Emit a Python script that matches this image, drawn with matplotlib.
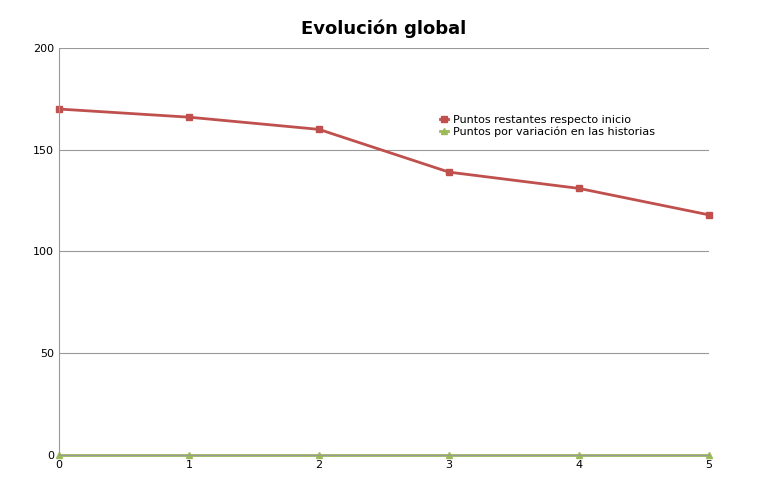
import matplotlib
matplotlib.use('Agg')
import matplotlib.pyplot as plt

x = [0, 1, 2, 3, 4, 5]
restantes = [170, 166, 160, 139, 131, 118]
variacion = [0, 0, 0, 0, 0, 0]

fig = plt.figure(figsize=(7.61, 5.04), dpi=100)
ax = fig.add_axes([0.0775, 0.0972, 0.8542, 0.8076])
ax.plot(x, restantes, color='#c0504d', linewidth=2, marker='s', markersize=5,
        label='Puntos restantes respecto inicio', clip_on=False)
ax.plot(x, variacion, color='#9bbb59', linewidth=2, marker='^', markersize=5,
        label='Puntos por variación en las historias', clip_on=False)
ax.set_xlim(0, 5)
ax.set_ylim(0, 200)
ax.set_xticks(x)
ax.set_yticks([0, 50, 100, 150, 200])
ax.tick_params(labelsize=8, length=0)
ax.grid(axis='y', color='#999999', linewidth=0.8)
ax.set_axisbelow(True)
for s in ['top', 'right']:
    ax.spines[s].set_visible(False)
ax.spines['left'].set_color('#999999')
ax.spines['bottom'].set_color('#999999')
ax.set_title('Evolución global', fontsize=13, fontweight='bold', pad=10)
ax.legend(loc='upper left', bbox_to_anchor=(0.57, 0.86), frameon=False,
          fontsize=8, handlelength=0.8, handletextpad=0.4, labelspacing=0.1)
plt.savefig('out.png')
